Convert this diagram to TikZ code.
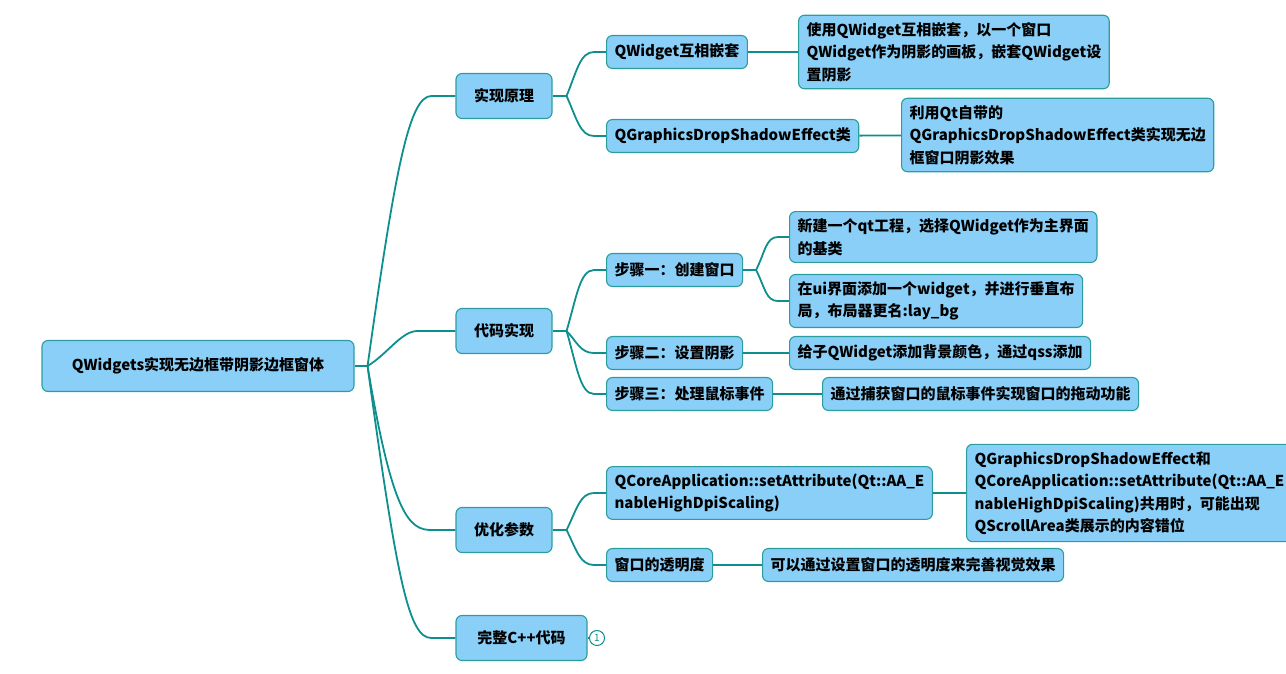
\documentclass[tikz,border=0pt]{standalone}
\usepackage{fontspec}
\setmainfont{Noto Sans CJK SC}
\usetikzlibrary{calc}
\definecolor{mmTeal}{HTML}{0E8F8F}
\definecolor{mmEdge}{HTML}{2A9E9E}
\definecolor{mmSky}{HTML}{89CFF8}
\tikzset{
  topic/.style={draw=mmEdge, fill=mmSky, rounded corners=6pt, line width=1.1pt, font=\bfseries\fontsize{15}{22.5}\selectfont, text=black, inner xsep=8pt, inner ysep=7pt},
  rootbox/.style={topic, minimum width=312pt, minimum height=51pt},
  mainbox/.style={topic, minimum width=96pt, minimum height=45pt},
  subbox/.style={topic, anchor=west, minimum height=33pt},
  leafbox/.style={topic, anchor=west, align=left, minimum height=33pt},
  link/.style={draw=mmTeal, line width=1.8pt},
  badge/.style={circle, draw=mmTeal, line width=1pt, inner sep=0pt, minimum size=15pt, text=mmTeal, font=\fontsize{10}{10}\selectfont},
}

\begin{document}
\begin{tikzpicture}[x=1pt,y=-1pt]
    \useasboundingbox (0,0) rectangle (1286,674);
    \node[rootbox] (root) at (198,366) {QWidgets实现无边框带阴影边框窗体};
    \node[mainbox] (a) at (504,96) {实现原理};
    \node[mainbox] (b) at (504,331) {代码实现};
    \node[mainbox] (c) at (504,530) {优化参数};
    \node[mainbox, minimum width=131pt] (d) at (521.5,638) {完整C++代码};
    % 实现原理
    \node[subbox] (a1) at (606,52) {QWidget互相嵌套};
    \node[subbox] (a2) at (606,136) {QGraphicsDropShadowEffect类};
    \node[leafbox] (a1t) at (798,52) {使用QWidget互相嵌套，以一个窗口\\QWidget作为阴影的画板，嵌套QWidget设\\置阴影};
    \node[leafbox] (a2t) at (901,135) {利用Qt自带的\\QGraphicsDropShadowEffect类实现无边\\框窗口阴影效果};
    % 代码实现
    \node[subbox] (b1) at (606,270) {步骤一：创建窗口};
    \node[subbox] (b2) at (606,353) {步骤二：设置阴影};
    \node[subbox] (b3) at (606,394) {步骤三：处理鼠标事件};
    \node[leafbox] (b1t) at (789,237) {新建一个qt工程，选择QWidget作为主界面\\的基类};
    \node[leafbox] (b1u) at (789,301) {在ui界面添加一个widget，并进行垂直布\\局，布局器更名:lay\_bg};
    \node[leafbox] (b2t) at (789,353) {给子QWidget添加背景颜色，通过qss添加};
    \node[leafbox] (b3t) at (822,394) {通过捕获窗口的鼠标事件实现窗口的拖动功能};
    % 优化参数
    \node[subbox, align=left] (c1) at (606,493) {QCoreApplication::setAttribute(Qt::AA\_E\\nableHighDpiScaling)};
    \node[subbox] (c2) at (606,565) {窗口的透明度};
    \node[leafbox] (c1t) at (966,493) {QGraphicsDropShadowEffect和\\QCoreApplication::setAttribute(Qt::AA\_E\\nableHighDpiScaling)共用时，可能出现\\QScrollArea类展示的内容错位};
    \node[leafbox] (c2t) at (762,565) {可以通过设置窗口的透明度来完善视觉效果};
    % 完整C++代码
    \node[badge] (d1) at (597,638) {1};

    % root branches
    \draw[link] (root.east) -- ++(13,0) coordinate (rj);
    \foreach \n/\cx/\cy/\cz/\ex in {a/28/-200/22/24, b/20/-12/16/38, c/25/150/22/24, d/30/220/22/24}
        \draw[link] (rj) .. controls +(\cx,\cy) and +(-\cz,0) .. ($(\n.west)+(-\ex,0)$) -- (\n.west);
    % second level
    \draw[link] (a.east) -- ++(14,0) coordinate (aj);
    \foreach \n/\cy in {a1/-24, a2/22}
        \draw[link] (aj) .. controls +(10,\cy) and +(-14,0) .. ($(\n.west)+(-12,0)$) -- (\n.west);
    \draw[link] (b.east) -- ++(14,0) coordinate (bj);
    \foreach \n/\cy in {b1/-34, b2/10, b3/34}
        \draw[link] (bj) .. controls +(10,\cy) and +(-14,0) .. ($(\n.west)+(-12,0)$) -- (\n.west);
    \draw[link] (c.east) -- ++(14,0) coordinate (cj);
    \foreach \n/\cy in {c1/-20, c2/20}
        \draw[link] (cj) .. controls +(10,\cy) and +(-14,0) .. ($(\n.west)+(-12,0)$) -- (\n.west);
    \draw[link] (b1.east) -- ++(13,0) coordinate (b1j);
    \foreach \n/\cy in {b1t/-18, b1u/18}
        \draw[link] (b1j) .. controls +(9,\cy) and +(-12,0) .. ($(\n.west)+(-11,0)$) -- (\n.west);
    % single leaves
    \foreach \a/\b in {a1/a1t, a2/a2t, b2/b2t, b3/b3t, c1/c1t, c2/c2t, d/d1}
        \draw[link] (\a) -- (\b);
\end{tikzpicture}
\end{document}
